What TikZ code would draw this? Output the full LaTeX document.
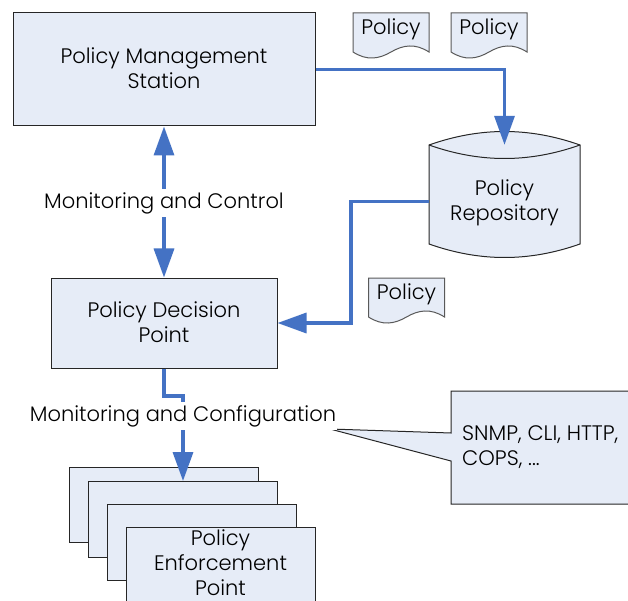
\documentclass[tikz,border=0pt]{standalone}
\usepackage{fontspec}
\setmainfont{Poppins Light}
\usetikzlibrary{arrows.meta}
\definecolor{boxfill}{HTML}{E6ECF7}
\definecolor{linkblue}{HTML}{4472C4}
\definecolor{docedge}{HTML}{595959}
\tikzset{
  x=1pt,y=-1pt,
  every node/.style={font=\fontsize{21}{25}\selectfont,text=black,inner sep=0pt,align=center},
  procbox/.style={draw=black!85,line width=1pt,fill=boxfill},
  docshape/.style={draw=docedge,line width=1pt,fill=boxfill},
  link/.style={draw=linkblue,line width=3.4pt,line join=miter},
  headone/.style={-{Triangle[length=29pt,width=20pt]}},
  headtwo/.style={{Triangle[length=29pt,width=20pt]}-{Triangle[length=29pt,width=20pt]}},
  whitelabel/.style={fill=white,inner xsep=1pt,inner ysep=3pt},
  stackbox/.style={procbox,minimum width=189pt,anchor=north west},
}
\newcommand{\docsheet}[3]{%
  \draw[docshape] (#1,#2) -- (#1+76,#2) -- (#1+76,#2+39)
    .. controls (#1+62,#2+30) and (#1+50,#2+32) .. (#1+38,#2+39)
    .. controls (#1+26,#2+46) and (#1+14,#2+48) .. (#1,#2+39) -- cycle;
  \node (#3) at (#1+38,#2+16) {Policy};
}
\begin{document}
\begin{tikzpicture}
\useasboundingbox (0,0) rectangle (628,601);
\fill[white] (0,0) rectangle (628,601);

% repository shape
\draw[procbox] (429,145) .. controls (480,127) and (529,127) .. (580,145)
  -- (580,244) .. controls (529,262) and (480,262) .. (429,244) -- cycle;
\draw[procbox,fill=none] (429,145) .. controls (480,163) and (529,163) .. (580,145);
\node (repo) at (504.5,201.5) [minimum width=151pt,minimum height=113pt] {};
\node (repotext) at (504.5,203) {Policy\\Repository};

% main boxes
\node[procbox,minimum width=302pt,minimum height=113pt] (pms) at (164,69.5) {};
\node (pmstext) at (164,68.5) {Policy Management\\Station};
\node[procbox,minimum width=226pt,minimum height=90pt] (pdp) at (164,323) {};
\node (pdptext) at (164,322) {Policy Decision\\Point};

% documents
\docsheet{353}{13}{doca}
\docsheet{451}{13}{docb}
\docsheet{368.5}{278}{docc}

% callout
\draw[procbox] (640,391) -- (451,391) -- (451,433) -- (330,429) -- (451,461) -- (451,504) -- (640,504);
\node[anchor=west,align=left] (callout) at (462,447) {SNMP, CLI, HTTP,\\COPS, ...};

% connectors
\coordinate (elbowa) at (351,260);
\coordinate (elbowb) at (164,396);
\coordinate (elbowc) at (183,396);
\coordinate (pepentry) at (183,481);
\draw[link,headone] (pms.east) -| (repo.north);
\draw[link,headtwo] (pms.south) -- (pdp.north);
\draw[link,headone] (repo.west) -- (elbowa |- repo.west) |- (pdp.east);

% enforcement stack
\node[stackbox,minimum height=75pt] (pepa) at (69,467) {};
\draw[link] (pdp.south) -- (elbowb) -- (elbowc) -- (183,405);
\draw[link,headone] (183,420) -- (pepentry);
\node[stackbox,minimum height=76pt] (pepb) at (88,481) {};
\node[stackbox,minimum height=76pt] (pepc) at (107,504) {};
\node[stackbox,minimum height=90pt] (pepd) at (126,527) {};
\node (peptext) at (220.5,563) {Policy\\Enforcement\\Point};

% labels
\node[whitelabel] (mc) at (164,203) {Monitoring and Control};
\node[whitelabel] (mconf) at (183,416) {Monitoring and Configuration};
\end{tikzpicture}
\end{document}
